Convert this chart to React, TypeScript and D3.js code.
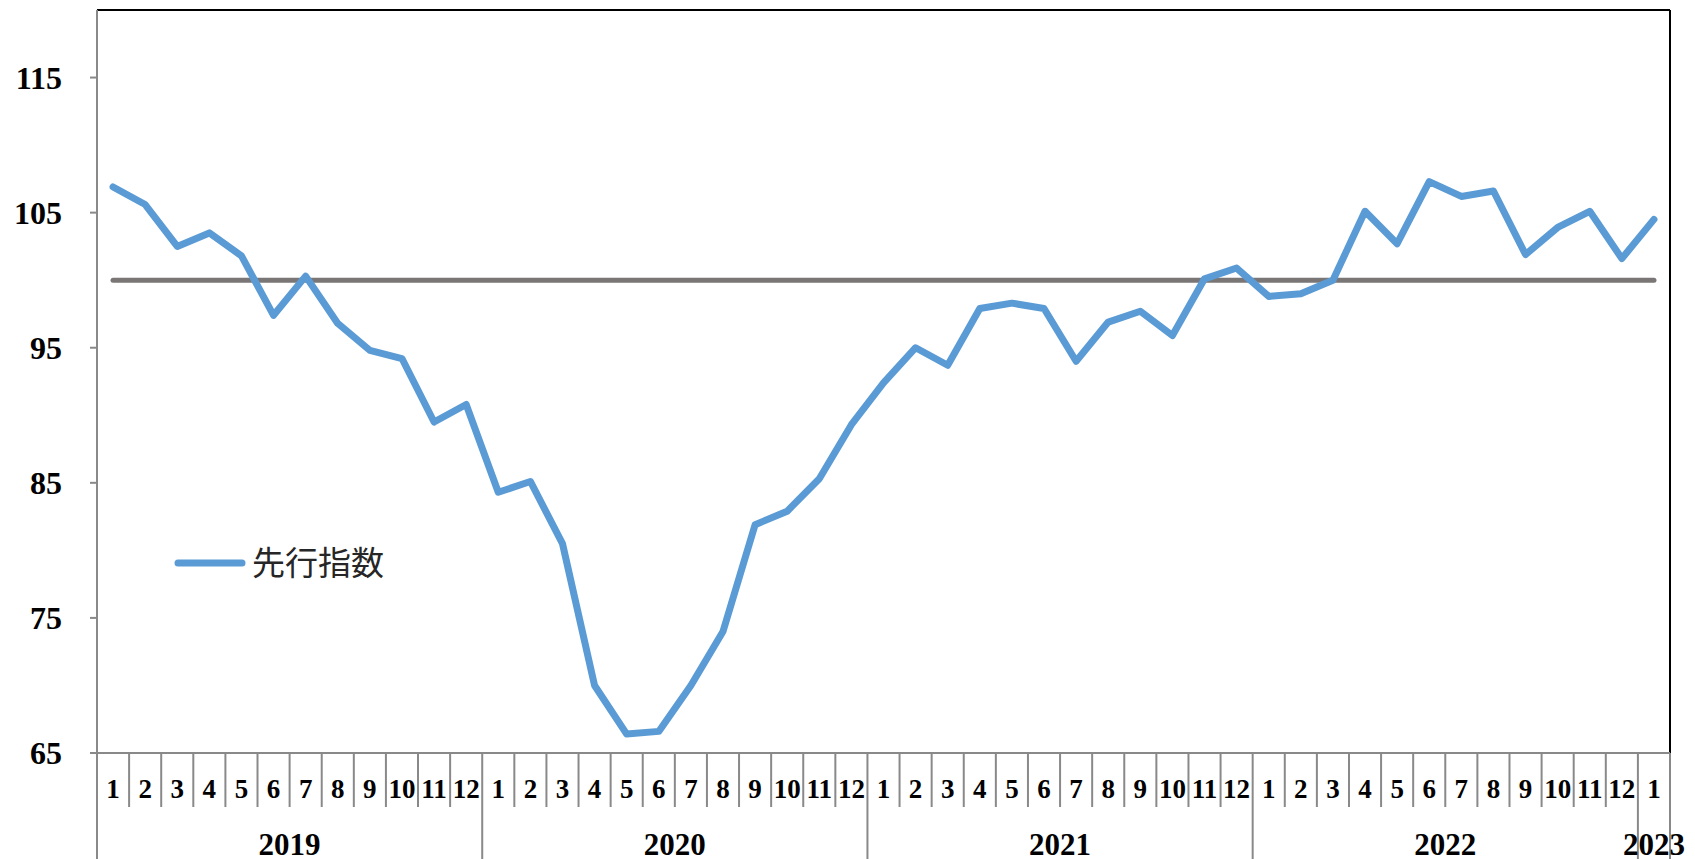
import React from "react";
import * as d3 from "d3";

const years = ["2019", "2020", "2021", "2022", "2023"];
const monthsPerYear = [12, 12, 12, 12, 1];
const leadingIndex = [
  106.9, 105.6, 102.5, 103.5, 101.8, 97.4, 100.3, 96.8, 94.8, 94.2, 89.5, 90.8,
  84.3, 85.1, 80.5, 70.0, 66.4, 66.6, 70.0, 74.0, 81.9, 82.9, 85.3, 89.3,
  92.4, 95.0, 93.7, 97.9, 98.3, 97.9, 94.0, 96.9, 97.7, 95.9, 100.1, 100.9,
  98.8, 99.0, 100.0, 105.1, 102.7, 107.3, 106.2, 106.6, 101.9, 103.9, 105.1, 101.6,
  104.5,
];
const baseline = 100;
const yTicks = [65, 75, 85, 95, 105, 115];
const seriesName = "先行指数";

const W = 1695;
const H = 859;
const left = 97;
const right = 1670;
const top = 10;
const bottom = 753;

export default function App() {
  const cats: { key: string; month: number; yearIdx: number }[] = [];
  years.forEach((y, yi) => {
    for (let m = 1; m <= monthsPerYear[yi]; m++) cats.push({ key: `${y}-${m}`, month: m, yearIdx: yi });
  });
  const x = d3.scaleBand<string>().domain(cats.map((c) => c.key)).range([left, right]).padding(0);
  const y = d3.scaleLinear().domain([65, 120]).range([bottom, top]);
  const bw = x.bandwidth();
  const cx = (i: number) => (x(cats[i].key) as number) + bw / 2;

  const line = d3
    .line<number>()
    .x((_, i) => cx(i))
    .y((d) => y(d));

  const axisColor = "#898989";
  const serif = "'Liberation Serif', 'Times New Roman', serif";

  // year boundaries
  const yearStarts: number[] = [];
  let acc = 0;
  monthsPerYear.forEach((n) => {
    yearStarts.push(acc);
    acc += n;
  });

  return (
    <svg width={W} height={H} style={{ position: "absolute", left: 0, top: 0, background: "#fff" }}>
      {/* frame top & right */}
      <line x1={left} y1={top} x2={right} y2={top} stroke="#000" strokeWidth={2} />
      <line x1={right} y1={top} x2={right} y2={bottom} stroke="#000" strokeWidth={2} />
      {/* y axis */}
      <line x1={left} y1={top} x2={left} y2={H} stroke={axisColor} strokeWidth={2} />
      {yTicks.map((t) => (
        <g key={t}>
          <line x1={left - 7} x2={left} y1={y(t)} y2={y(t)} stroke={axisColor} strokeWidth={2} />
          <text
            x={62}
            y={y(t)}
            dy="0.35em"
            textAnchor="end"
            fontFamily={serif}
            fontWeight="bold"
            fontSize={32}
            fill="#000"
          >
            {t}
          </text>
        </g>
      ))}
      {/* x axis */}
      <line x1={left - 7} y1={bottom} x2={right} y2={bottom} stroke={axisColor} strokeWidth={2} />
      {cats.map((c, i) => {
        const bx = x(c.key) as number;
        const isYearStart = i > 0 && c.month === 1;
        return (
          <g key={c.key}>
            {i > 0 && (
              <line
                x1={bx}
                x2={bx}
                y1={bottom}
                y2={isYearStart ? H : 807}
                stroke={axisColor}
                strokeWidth={2}
              />
            )}
            <text
              x={cx(i)}
              y={798}
              textAnchor="middle"
              fontFamily={serif}
              fontWeight="bold"
              fontSize={27}
              fill="#000"
            >
              {c.month}
            </text>
          </g>
        );
      })}
      <line x1={right} x2={right} y1={bottom} y2={H} stroke={axisColor} strokeWidth={2} />
      {years.map((yr, yi) => {
        const s = yearStarts[yi];
        const e = s + monthsPerYear[yi];
        const x0 = x(cats[s].key) as number;
        const x1 = (x(cats[e - 1].key) as number) + bw;
        return (
          <text
            key={yr}
            x={(x0 + x1) / 2}
            y={855}
            textAnchor="middle"
            fontFamily={serif}
            fontWeight="bold"
            fontSize={31}
            fill="#000"
          >
            {yr}
          </text>
        );
      })}
      {/* baseline */}
      <line
        x1={cx(0)}
        x2={cx(cats.length - 1)}
        y1={y(baseline)}
        y2={y(baseline)}
        stroke="#7a7676"
        strokeWidth={5}
        strokeLinecap="round"
      />
      {/* series */}
      <path
        d={line(leadingIndex) as string}
        fill="none"
        stroke="#5B9BD5"
        strokeWidth={7}
        strokeLinejoin="round"
        strokeLinecap="round"
      />
      {/* legend */}
      <line x1={178} x2={242} y1={563} y2={563} stroke="#5B9BD5" strokeWidth={7} strokeLinecap="round" />
      <text
        x={252}
        y={563}
        dy="0.36em"
        fontFamily="'Noto Sans CJK JP', 'Noto Sans CJK SC', sans-serif"
        fontSize={33}
        fill="#262626"
      >
        {seriesName}
      </text>
    </svg>
  );
}
